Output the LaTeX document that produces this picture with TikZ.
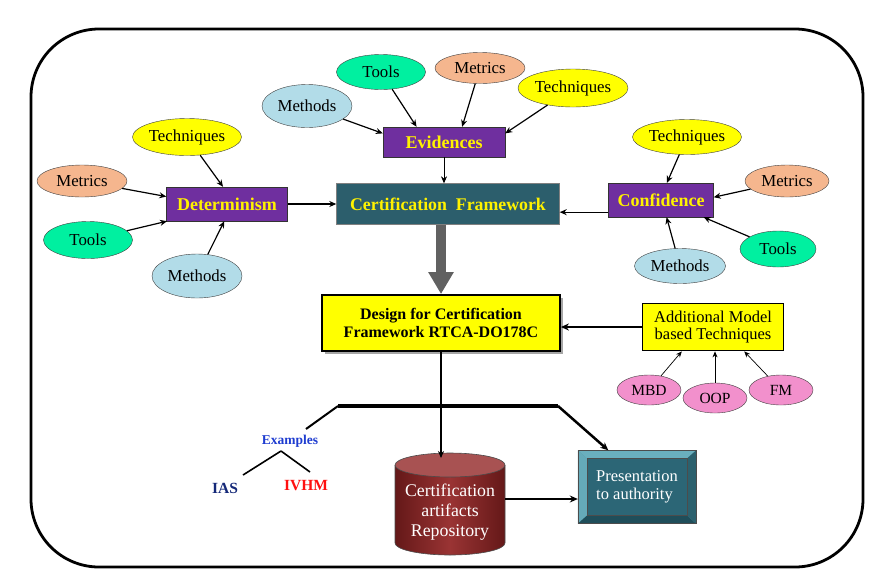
\documentclass[tikz,border=0pt]{standalone}
\usepackage{fontspec}
\setmainfont{Liberation Serif}
\usetikzlibrary{shapes.geometric,arrows.meta,calc,shadows}
\definecolor{purp}{HTML}{6F2F9F}
\definecolor{cfteal}{HTML}{2C5E6C}
\definecolor{toolg}{HTML}{00F0A0}
\definecolor{methb}{HTML}{B2DCE8}
\definecolor{metp}{HTML}{F5B68E}
\definecolor{techy}{HTML}{FFFF00}
\definecolor{pinkc}{HTML}{F290CC}
\definecolor{cylred}{HTML}{9A3434}
\definecolor{cyldark}{HTML}{641818}
\definecolor{cyltop}{HTML}{A85252}
\definecolor{presd}{HTML}{2C6676}
\definecolor{presl}{HTML}{6AAFBE}
\definecolor{presm}{HTML}{4A8E9E}
\definecolor{presk}{HTML}{1F4E5A}
\definecolor{exblue}{HTML}{1E3CD0}
\definecolor{iasblue}{HTML}{142878}
\definecolor{ivred}{HTML}{FF1010}
\begin{document}
\begin{tikzpicture}[x=1pt,y=-1pt,
  every node/.style={font=\fontsize{16.8}{18}\selectfont},
  pbox/.style={draw=black!80, fill=purp, text=yellow, inner sep=0, font=\bfseries\fontsize{18}{20}\selectfont},
  cbox/.style={draw=black!50, fill=cfteal, text=yellow, inner sep=0, font=\bfseries\fontsize{17.8}{20}\selectfont},
  ybox/.style={draw=black, line width=1.8pt, fill=techy, inner sep=0, align=center},
  ell/.style={ellipse, draw=black!75, inner sep=0},
  tools/.style={ell, fill=toolg},
  meth/.style={ell, fill=methb},
  metr/.style={ell, fill=metp},
  tech/.style={ell, fill=techy},
  pink/.style={ell, fill=pinkc, minimum width=64pt, minimum height=30pt, font=\fontsize{15.5}{17}\selectfont},
  arr/.style={-{Stealth[length=7pt,width=6pt]}, line width=1.2pt},
  tarr/.style={-{Stealth[length=6pt,width=5pt]}, line width=0.7pt},
  bar/.style={line width=3.5pt},
]
\useasboundingbox (0,0) rectangle (893,574);
\draw[line width=2.8pt, rounded corners=68pt] (31,29) rectangle (863,567);

% central boxes
\node[pbox, minimum width=122pt, minimum height=30pt] (ev) at (444,142) {Evidences};
\node[cbox, minimum width=223pt, minimum height=41pt] (cf) at (448,204) {Certification\ \ Framework};
\node[pbox, minimum width=121pt, minimum height=34pt] (det) at (227,204) {Determinism};
\node[pbox, minimum width=105pt, minimum height=34pt] (conf) at (661,200) {Confidence};

% evidences group
\node[meth, minimum width=90pt, minimum height=43pt] (em) at (307,106) {Methods};
\node[tools, minimum width=89pt, minimum height=35pt] (et) at (381,72) {Tools};
\node[metr, minimum width=90pt, minimum height=31pt] (emt) at (480,68) {Metrics};
\node[tech, minimum width=110pt, minimum height=38pt] (etc) at (573,88) {Techniques};
\draw[arr] (em) -- (ev.172);
\draw[arr] (et) -- (ev.151);
\draw[arr] (emt) -- (ev.40);
\draw[arr] (etc) -- (ev.8);

% determinism group
\node[tech, minimum width=109pt, minimum height=37pt] (dtc) at (187,137) {Techniques};
\node[metr, minimum width=90pt, minimum height=32pt] (dmt) at (82,181) {Metrics};
\node[tools, minimum width=89pt, minimum height=37pt] (dt) at (88,240) {Tools};
\node[meth, minimum width=90pt, minimum height=44pt] (dm) at (197,276) {Methods};
\draw[arr] (dtc) -- (det.103);
\draw[arr] (dmt) -- (det.173);
\draw[arr] (dt) -- (det.196);
\draw[arr] (dm) -- (det.261);

% confidence group
\node[tech, minimum width=109pt, minimum height=35pt] (ctc) at (687,137) {Techniques};
\node[metr, minimum width=84pt, minimum height=32pt] (cmt) at (787,181) {Metrics};
\node[tools, minimum width=76pt, minimum height=36pt] (ct) at (778,249) {Tools};
\node[meth, minimum width=91pt, minimum height=35pt] (cm) at (680,266) {Methods};
\draw[arr] (ctc) -- (conf.71);
\draw[arr] (cmt) -- (conf.3);
\draw[arr] (ct) -- (conf.-22);
\draw[arr] (cm) -- (conf.-72);

% into framework
\draw[arr, line width=0.6pt] (ev.south) -- (ev.south |- cf.north);
\draw[arr] (det) -- (cf);
\draw[arr] (conf.193) -- (conf.193 -| cf.east);

% design box
\node[ybox, minimum width=238pt, minimum height=56pt, font=\bfseries\fontsize{16}{18}\selectfont,
  drop shadow={shadow xshift=2.5pt, shadow yshift=-2.5pt, fill=black!35, opacity=1}] (dfc) at (441,323)
  {Design for Certification\\Framework RTCA-DO178C};
\draw[line width=10pt, draw=black!62, -{Triangle[width=24pt,length=22pt]}] (cf.south -| dfc.north) -- (dfc.north);

\node[ybox, minimum width=141pt, minimum height=47pt, font=\fontsize{16.5}{17.5}\selectfont] (amt) at (713,327)
  {Additional Model\\based Techniques};
\draw[-{Stealth[length=8pt,width=7pt]}, line width=2.2pt] (amt) -- (amt -| dfc.east);

\node[pink] (mbd) at (649,390) {MBD};
\node[pink] (oop) at (715,398) {OOP};
\node[pink] (fm) at (781,390) {FM};
\draw[tarr] (mbd) -- (amt.-142);
\draw[tarr] (oop) -- (oop |- amt.south);
\draw[tarr] (fm) -- (amt.-38);

% cylinder
\shade[left color=cyldark, right color=cyldark, middle color=cylred] (395,465) -- (395,543) arc[start angle=180, end angle=360, x radius=55pt, y radius=12pt] -- (505,465) -- cycle;
\draw[black!70, line width=0.6pt] (395,465) -- (395,543) arc[start angle=180, end angle=360, x radius=55pt, y radius=12pt] -- (505,465);
\filldraw[fill=cyltop, draw=black!70, line width=0.6pt] (450,465) ellipse [x radius=55pt, y radius=12pt];
\node[minimum width=110pt, minimum height=100pt, inner sep=0, text=white, align=center,
  font=\fontsize{17.8}{20}\selectfont] (cyl) at (450,512) {Certification\\artifacts\\Repository};
\coordinate (cyltopc) at (447,458);

% presentation
\node[minimum width=118pt, minimum height=73pt, inner sep=0, fill=presm, draw=black!70] (pres) at (637,487) {};
\fill[presl] (pres.north west) -- (pres.north east) -- ([shift={(-9pt,-8pt)}]pres.north east) -- ([shift={(9pt,-8pt)}]pres.north west) -- cycle;
\fill[presl!85!presm] (pres.north west) -- ([shift={(9pt,-8pt)}]pres.north west) -- ([shift={(9pt,8pt)}]pres.south west) -- (pres.south west) -- cycle;
\fill[presk] (pres.south west) -- ([shift={(9pt,8pt)}]pres.south west) -- ([shift={(-9pt,8pt)}]pres.south east) -- (pres.south east) -- cycle;
\fill[presk!70!presm] (pres.north east) -- ([shift={(-9pt,-8pt)}]pres.north east) -- ([shift={(-9pt,8pt)}]pres.south east) -- (pres.south east) -- cycle;
\filldraw[fill=presd, draw=black!70, line width=0.6pt] ([shift={(9pt,-8pt)}]pres.north west) rectangle ([shift={(-9pt,8pt)}]pres.south east);
\draw[black!70, line width=0.6pt] (pres.north west) rectangle (pres.south east);
\node[text=white, align=left, font=\fontsize{16.5}{17.5}\selectfont, inner sep=0] (prest) at (pres) {Presentation\\to authority};

% bottom connectors
\coordinate (bl) at (338,406);
\coordinate (br) at (558,406);
\coordinate (exl) at (306,429);
\draw[bar] (bl) -- (br);
\draw[line width=2pt] (bl) -- (exl);
\draw[arr, line width=2pt] (dfc.south) -- (dfc.south |- cyltopc);
\draw[-{Stealth[length=8pt,width=7pt]}, line width=2.5pt] (br) -- (pres.128);
\draw[-{Stealth[length=8pt,width=7pt]}, line width=2pt] ([yshift=13pt]cyl.east) -- ([yshift=13pt]cyl.east -| pres.west);

% examples
\node[text=exblue, font=\bfseries\fontsize{13.5}{15}\selectfont] (ex) at (290,441) {Examples};
\node[text=iasblue, font=\bfseries\fontsize{15.5}{17}\selectfont] (ias) at (225,488) {IAS};
\node[text=ivred, font=\bfseries\fontsize{15.5}{17}\selectfont] (ivhm) at (306,486) {IVHM};
\coordinate (exb) at (281,451);
\coordinate (exbl) at (243,475);
\coordinate (exbr) at (310,472);
\draw[line width=1.6pt] (exb) -- (exbl);
\draw[line width=1.6pt] (exb) -- (exbr);
\end{tikzpicture}
\end{document}
